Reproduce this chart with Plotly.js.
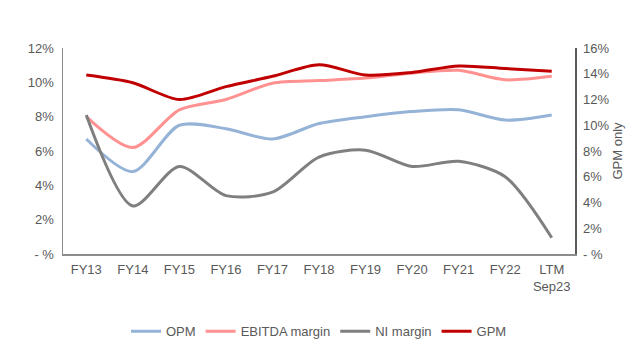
<!DOCTYPE html>
<html>
<head>
<meta charset="utf-8">
<script src="https://cdn.plot.ly/plotly-3.0.1.min.js"></script>
<style>html,body{margin:0;padding:0;background:#fff;}#chart{width:640px;height:364px;}</style>
</head>
<body>
<div id="chart"></div>
<script>
const categories = ["FY13","FY14","FY15","FY16","FY17","FY18","FY19","FY20","FY21","FY22","LTM<br>Sep23"];
const opm    = [6.7, 4.8, 7.5, 7.3, 6.7, 7.6, 8.0, 8.3, 8.4, 7.8, 8.1];
const ebitda = [8.0, 6.2, 8.4, 9.0, 9.95, 10.1, 10.25, 10.55, 10.7, 10.15, 10.35];
const ni     = [8.1, 2.8, 5.1, 3.4, 3.6, 5.65, 6.05, 5.1, 5.4, 4.5, 0.95];
const gpm    = [13.9, 13.3, 12.0, 13.0, 13.8, 14.7, 13.9, 14.1, 14.6, 14.4, 14.2];
const leftTickVals = [0,2,4,6,8,10,12];
const leftTickText = ["- %","2%","4%","6%","8%","10%","12%"];
const rightTickVals = [0,2,4,6,8,10,12,14,16];
const rightTickText = ["- %","2%","4%","6%","8%","10%","12%","14%","16%"];

const lineBase = {type:"scatter", mode:"lines", x:categories, line:{shape:"spline", smoothing:0.8, width:3}};
const data = [
  Object.assign({}, lineBase, {name:"OPM", y:opm, line:Object.assign({}, lineBase.line, {color:"#95B3D7"})}),
  Object.assign({}, lineBase, {name:"EBITDA margin", y:ebitda, line:Object.assign({}, lineBase.line, {color:"#FF9191"})}),
  Object.assign({}, lineBase, {name:"NI margin", y:ni, line:Object.assign({}, lineBase.line, {color:"#7F7F7F"})}),
  Object.assign({}, lineBase, {name:"GPM", y:gpm, yaxis:"y2", line:Object.assign({}, lineBase.line, {color:"#C00000"})})
];
const tickFont = {family:"Liberation Sans, Arial, sans-serif", size:13, color:"#595959"};
const layout = {
  width:640, height:364,
  margin:{l:63, r:65, t:48, b:110},
  paper_bgcolor:"#fff", plot_bgcolor:"#fff",
  showlegend:true,
  legend:{orientation:"h", x:0.5, xanchor:"center", y:-0.375, yanchor:"middle", font:tickFont, traceorder:"normal"},
  xaxis:{type:"category", range:[-0.5,10.5], showline:true, linecolor:"#8C8C8C", linewidth:1.5, showgrid:false, ticks:"", tickfont:tickFont, zeroline:false, ticklabelstandoff:3},
  yaxis:{range:[0,12], tickvals:leftTickVals, ticktext:leftTickText, showline:true, linecolor:"#8C8C8C", linewidth:1.5, showgrid:false, zeroline:false, tickfont:tickFont, ticks:"", ticklabelstandoff:5},
  yaxis2:{range:[0,16], overlaying:"y", side:"right", tickvals:rightTickVals, ticktext:rightTickText, showline:true, linecolor:"#595959", linewidth:1.5, showgrid:false, zeroline:false, tickfont:tickFont, ticks:"", ticklabelstandoff:4,
    title:{text:"GPM only", font:tickFont, standoff:2}}
};
Plotly.newPlot("chart", data, layout, {displayModeBar:false, staticPlot:true});
</script>
</body>
</html>
